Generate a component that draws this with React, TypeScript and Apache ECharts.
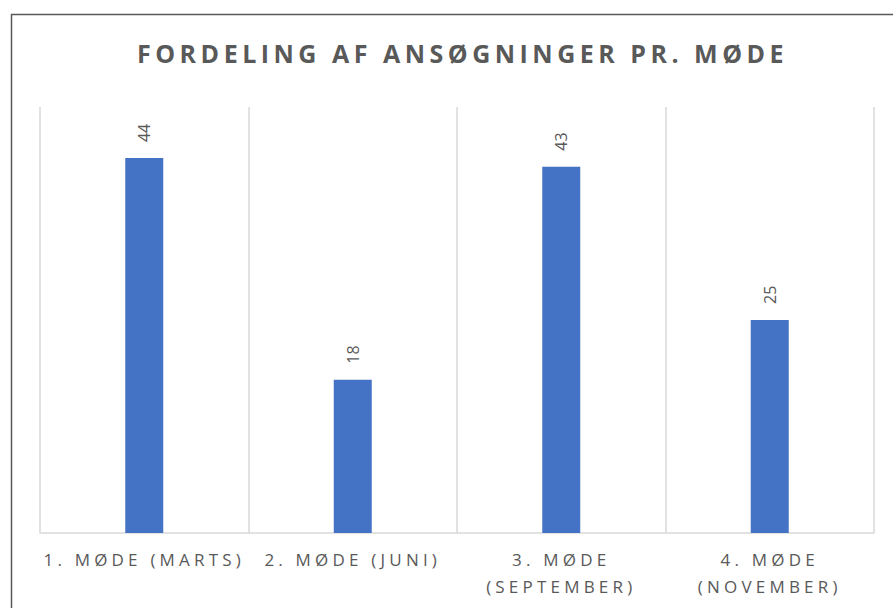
import React, { useEffect, useRef } from "react";
import * as echarts from "echarts";

const titleText = "FORDELING AF ANSØGNINGER PR. MØDE";
const categories = ["1. MØDE (MARTS)", "2. MØDE (JUNI)", "3. MØDE (SEPTEMBER)", "4. MØDE (NOVEMBER)"];
const values = [44, 18, 43, 25];

const wrapLabel = (s: string) => (s.length > 16 ? s.replace(" (", "\n(") : s);

export default function App() {
  const ref = useRef<HTMLDivElement>(null);
  useEffect(() => {
    if (!ref.current) return;
    const chart = echarts.init(ref.current, undefined, { renderer: "svg" });
    const font = "Open Sans";
    chart.setOption({
      animation: false,
      backgroundColor: "#ffffff",
      title: {
        text: titleText,
        left: 132,
        top: 35,
        textStyle: { fontFamily: font, fontSize: 25, fontWeight: "bold", color: "#595959" },
      },
      graphic: [
        {
          type: "rect",
          shape: { x: 11.5, y: 14.5, width: 1000, height: 800 },
          style: { fill: "none", stroke: "#595959", lineWidth: 1.5 },
          silent: true,
        },
      ],
      grid: { left: 40, right: 19, top: 107, bottom: 75 },
      xAxis: {
        type: "category",
        data: categories,
        axisLine: { lineStyle: { color: "#d9d9d9", width: 1.5 } },
        axisTick: { show: false },
        splitLine: { show: true, lineStyle: { color: "#d9d9d9", width: 1.5 } },
        axisLabel: {
          color: "#595959",
          fontFamily: font,
          fontSize: 17,
          margin: 13,
          lineHeight: 27,
          interval: 0,
          formatter: (v: string) => wrapLabel(v),
        },
      },
      yAxis: {
        type: "value",
        min: 0,
        max: 50,
        show: false,
        splitLine: { show: false },
      },
      series: [
        {
          type: "bar",
          data: values,
          barWidth: 38,
          itemStyle: { color: "#4472C4" },
          label: {
            show: true,
            position: "top",
            rotate: 90,
            align: "left",
            verticalAlign: "middle",
            distance: 16,
            color: "#595959",
            fontFamily: font,
            fontSize: 16,
          },
        },
      ],
    });
    const applySpacing = () => {
      const texts = ref.current?.querySelectorAll("text") || [];
      texts.forEach((t) => {
        const c = (t.textContent || "").trim();
        if (c === titleText) t.setAttribute("letter-spacing", "4.5px");
        else if (/[A-ZØ(]/.test(c)) t.setAttribute("letter-spacing", "4.2px");
      });
    };
    applySpacing();
    chart.on("finished", applySpacing);
    return () => chart.dispose();
  }, []);
  return (
    <div
      ref={ref}
      style={{ position: "fixed", left: 0, top: 0, width: 893, height: 608 }}
    />
  );
}
